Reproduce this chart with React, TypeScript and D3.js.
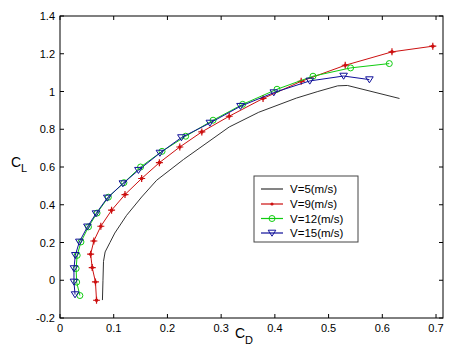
import React from "react";
import * as d3 from "d3";

const xTicks = [0, 0.1, 0.2, 0.3, 0.4, 0.5, 0.6, 0.7];
const yTicks = [-0.2, 0, 0.2, 0.4, 0.6, 0.8, 1, 1.2, 1.4];

const v5: [number, number][] = [
  [0.079, -0.105], [0.080, 0.0], [0.081, 0.1], [0.084, 0.15], [0.093, 0.2], [0.102, 0.25],
  [0.124, 0.344], [0.152, 0.441], [0.18, 0.53], [0.23, 0.64], [0.315, 0.812], [0.37, 0.89],
  [0.44, 0.965], [0.48, 1.0], [0.517, 1.03], [0.535, 1.032], [0.632, 0.963],
];
const v9: [number, number][] = [
  [0.068, -0.106], [0.066, -0.009], [0.060, 0.067], [0.057, 0.138], [0.063, 0.208], [0.076, 0.286],
  [0.096, 0.371], [0.121, 0.454], [0.152, 0.539], [0.185, 0.623], [0.223, 0.706], [0.264, 0.786],
  [0.315, 0.869], [0.378, 0.963], [0.449, 1.054], [0.531, 1.139], [0.618, 1.21], [0.694, 1.24],
];
const v12: [number, number][] = [
  [0.037, -0.081], [0.031, -0.01], [0.030, 0.062], [0.032, 0.132], [0.039, 0.203], [0.053, 0.283],
  [0.069, 0.356], [0.090, 0.44], [0.119, 0.517], [0.150, 0.6], [0.190, 0.683], [0.234, 0.763],
  [0.285, 0.848], [0.340, 0.932], [0.404, 1.012], [0.471, 1.081], [0.541, 1.125], [0.613, 1.148],
];
const v15: [number, number][] = [
  [0.028, -0.076], [0.026, -0.009], [0.026, 0.062], [0.0285, 0.132], [0.036, 0.203], [0.051, 0.283],
  [0.067, 0.353], [0.088, 0.436], [0.117, 0.512], [0.146, 0.583], [0.186, 0.674], [0.226, 0.756],
  [0.279, 0.833], [0.336, 0.922], [0.398, 0.994], [0.465, 1.056], [0.528, 1.082], [0.576, 1.063],
];
const legendLabels = ["V=5(m/s)", "V=9(m/s)", "V=12(m/s)", "V=15(m/s)"];

const W = 457, H = 355;
const L = 60, R = 443, T = 16, B = 318;
const font = "Liberation Sans, Arial, sans-serif";

const colors = { v5: "#333333", v9: "#cc1010", v12: "#10cc10", v15: "#10109a" };

export default function App() {
  const x = d3.scaleLinear().domain([0, 0.713]).range([L, R]);
  const y = d3.scaleLinear().domain([-0.2, 1.4]).range([B, T]);
  const line = d3.line<[number, number]>().x(d => x(d[0])).y(d => y(d[1]));
  const tri = (cx: number, cy: number, k: string | number) => (
    <path key={k} d={`M${cx - 3.8},${cy - 2.8}L${cx + 3.8},${cy - 2.8}L${cx},${cy + 3.2}Z`} fill="none" stroke={colors.v15} strokeWidth={1} />
  );
  const star = (cx: number, cy: number, k: string | number) => (
    <g key={k}>
      <path d={`M${cx - 3.5},${cy}L${cx + 3.5},${cy}M${cx},${cy - 3.5}L${cx},${cy + 3.5}`} stroke={colors.v9} strokeWidth={1.2} />
      <circle cx={cx} cy={cy} r={1.8} fill={colors.v9} />
    </g>
  );
  const circ = (cx: number, cy: number, k: string | number) => (
    <circle key={k} cx={cx} cy={cy} r={3} fill="none" stroke={colors.v12} strokeWidth={1} />
  );
  const legY = [189, 204, 218.5, 233];
  const lx0 = 261, lx1 = 283, tx = 290;
  return (
    <svg width={W} height={H} style={{ position: "absolute", left: 0, top: 0, background: "#fff" }} fontFamily={font}>
      <rect x={0} y={0} width={W} height={H} fill="#fff" />
      {/* ticks */}
      {xTicks.map(t => (
        <g key={"x" + t}>
          <line x1={x(t)} x2={x(t)} y1={B} y2={B - 4} stroke="#000" />
          <line x1={x(t)} x2={x(t)} y1={T} y2={T + 4} stroke="#000" />
          <text x={x(t)} y={332} fontSize={11} textAnchor="middle" fill="#000">{String(t)}</text>
        </g>
      ))}
      {yTicks.map(t => (
        <g key={"y" + t}>
          <line x1={L} x2={L + 4} y1={y(t)} y2={y(t)} stroke="#000" />
          <line x1={R} x2={R - 4} y1={y(t)} y2={y(t)} stroke="#000" />
          <text x={55} y={y(t) + 4} fontSize={11} textAnchor="end" fill="#000">{String(t)}</text>
        </g>
      ))}
      <rect x={L} y={T} width={R - L} height={B - T} fill="none" stroke="#000" strokeWidth={1} />
      {/* series */}
      <path d={line(v5) || ""} fill="none" stroke={colors.v5} strokeWidth={1} />
      <path d={line(v9) || ""} fill="none" stroke={colors.v9} strokeWidth={1} />
      {v9.map((d, i) => star(x(d[0]), y(d[1]), i))}
      <path d={line(v12) || ""} fill="none" stroke={colors.v12} strokeWidth={1} />
      {v12.map((d, i) => circ(x(d[0]), y(d[1]), i))}
      <path d={line(v15) || ""} fill="none" stroke={colors.v15} strokeWidth={1} />
      {v15.map((d, i) => tri(x(d[0]), y(d[1]), i))}
      {/* axis labels */}
      <text x={11} y={167} fontSize={14} fill="#000">C</text>
      <text x={21} y={172} fontSize={11} fill="#000">L</text>
      <text x={235} y={338} fontSize={14} fill="#000">C</text>
      <text x={245} y={344} fontSize={11} fill="#000">D</text>
      {/* legend */}
      <rect x={254} y={176} width={104} height={66} fill="#fff" stroke="#444" strokeWidth={1} />
      {legendLabels.map((lab, i) => {
        const c = [colors.v5, colors.v9, colors.v12, colors.v15][i];
        const cy = legY[i];
        const mx = (lx0 + lx1) / 2;
        return (
          <g key={lab}>
            <line x1={lx0} x2={lx1} y1={cy} y2={cy} stroke={c} strokeWidth={1.2} />
            {i === 1 && <circle cx={mx} cy={cy} r={1.6} fill={c} />}
            {i === 2 && circ(mx, cy, "lc")}
            {i === 3 && tri(mx, cy, "lt")}
            <text x={tx} y={cy + 4} fontSize={11.5} fill="#000">{lab}</text>
          </g>
        );
      })}
    </svg>
  );
}
